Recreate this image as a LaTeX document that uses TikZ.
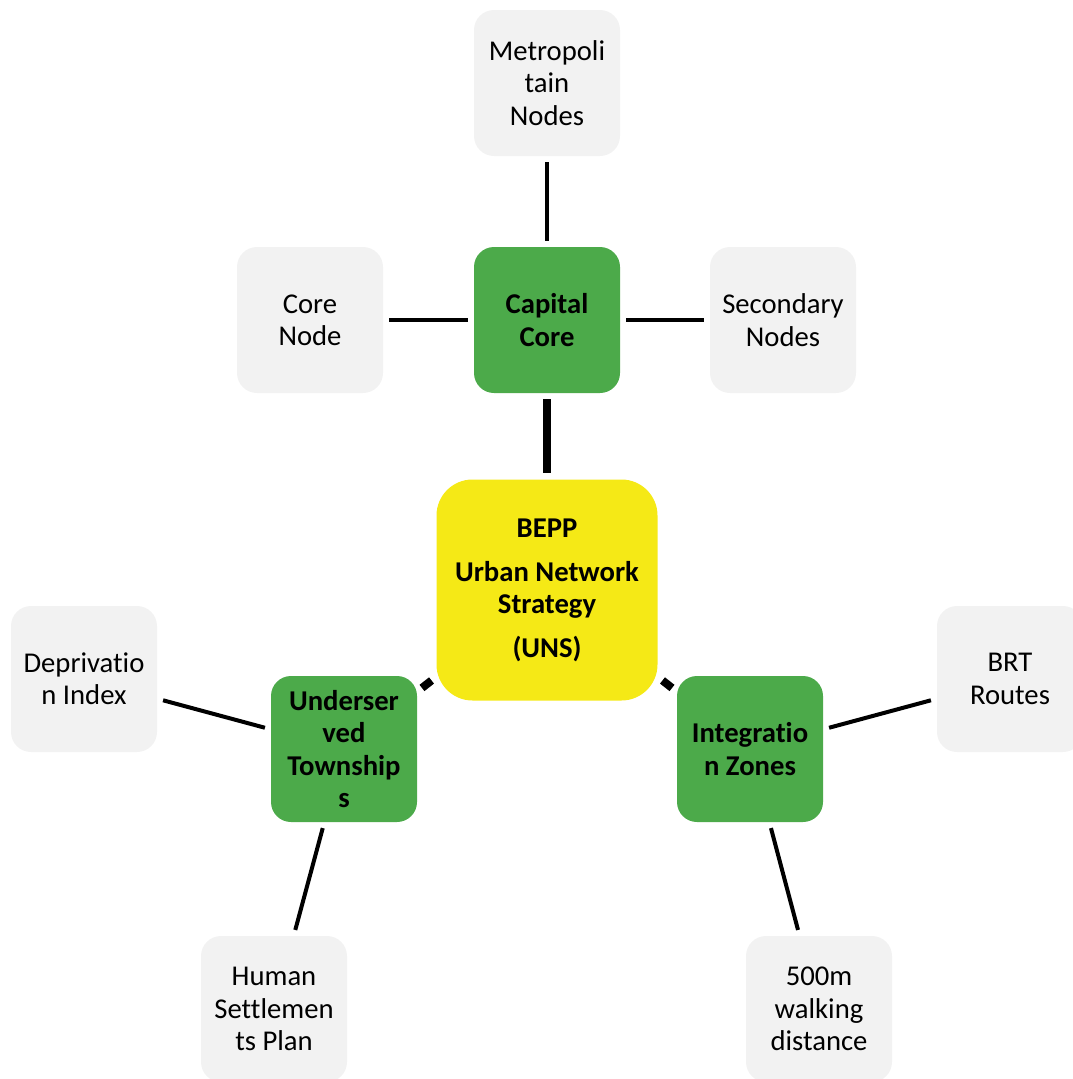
\documentclass[tikz,border=0pt]{standalone}
\usepackage{fontspec}
\setmainfont[Ligatures=NoCommon]{Carlito}
\definecolor{boxgray}{RGB}{242,242,242}
\definecolor{boxgreen}{RGB}{76,170,74}
\definecolor{boxyellow}{RGB}{245,233,22}
\begin{document}
\begin{tikzpicture}[x=0.75pt,y=-0.75pt,
  box/.style={draw=none,rounded corners=15pt,minimum width=109.5pt,minimum height=109.5pt,inner sep=0pt,align=center},
  leaf/.style={box,fill=boxgray,font=\fontsize{21.5}{24.3}\selectfont},
  hub/.style={box,fill=boxgreen,font=\fontsize{21.5}{24.3}\selectfont\bfseries},
  core/.style={fill=boxyellow,draw=none,rounded corners=27pt,minimum width=165.75pt,minimum height=165.75pt,inner sep=0pt,align=center,font=\fontsize{21.5}{24}\selectfont\bfseries},
  thin/.style={line width=3pt,shorten <=4.5pt,shorten >=4.5pt},
  thick/.style={line width=6pt,shorten <=4.5pt,shorten >=4.5pt}]
\useasboundingbox (0,0) rectangle (1073,1079);
\clip (0,0) rectangle (1073,1079);
\node[core] (uns) at (547,590) {BEPP\\[9pt]Urban Network\\Strategy\\[9pt](UNS)};
\node[hub] (cap) at (547,320) {Capital\\Core};
\node[hub] (und) at (344,749) {Underser\\ved\\Township\\s};
\node[hub] (int) at (750,749) {Integratio\\n Zones};
\node[leaf] (met) at (547,83) {Metropoli\\tain\\Nodes};
\node[leaf] (cn) at (310,320) {Core\\Node};
\node[leaf] (sec) at (783,320) {Secondary\\Nodes};
\node[leaf] (dep) at (84,679) {Deprivatio\\n Index};
\node[leaf] (brt) at (1010,679) {BRT\\Routes};
\node[leaf] (hsp) at (274,1009) {Human\\Settlemen\\ts Plan};
\node[leaf] (walk) at (819,1009) {500m\\walking\\distance};
\draw[thick] (cap) -- (uns);
\draw[thick] (uns) -- (und);
\draw[thick] (uns) -- (int);
\draw[thin] (cap) -- (met);
\draw[thin] (cap) -- (cn);
\draw[thin] (cap) -- (sec);
\draw[thin] (und) -- (dep);
\draw[thin] (und) -- (hsp);
\draw[thin] (int) -- (brt);
\draw[thin] (int) -- (walk);
\end{tikzpicture}
\end{document}
